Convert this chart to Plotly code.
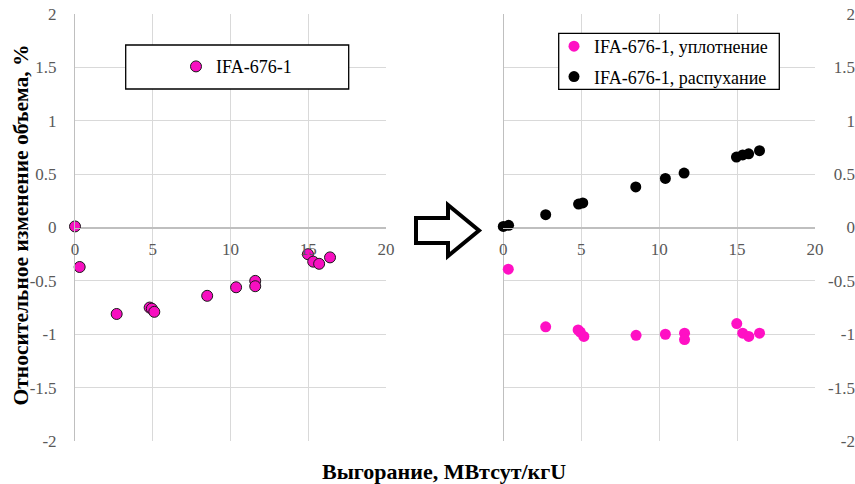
import plotly.graph_objects as go

# Burnup, MWd/kgU, and relative volume change, %  (IFA-676-1)
total_burnup = [0.0, 0.3, 2.68, 4.8, 4.94, 5.1, 8.5, 10.36, 11.59, 11.59, 14.98, 15.32, 15.7, 16.4]
total_change = [0.01, -0.37, -0.81, -0.75, -0.76, -0.79, -0.64, -0.56, -0.50, -0.55, -0.25, -0.32, -0.34, -0.28]

dens_burnup = [0.32, 2.72, 4.8, 4.94, 5.17, 8.52, 10.4, 11.63, 11.63, 14.98, 15.36, 15.75, 16.44]
dens_change = [-0.39, -0.93, -0.96, -0.98, -1.02, -1.01, -1.00, -0.99, -1.05, -0.90, -0.99, -1.02, -0.99]

swell_burnup = [0.0, 0.34, 2.72, 4.83, 5.1, 8.5, 10.4, 11.6, 14.96, 15.36, 15.74, 16.44]
swell_change = [0.01, 0.02, 0.12, 0.22, 0.23, 0.38, 0.46, 0.51, 0.66, 0.68, 0.69, 0.72]

y_tick_vals = [-2, -1.5, -1, -0.5, 0, 0.5, 1, 1.5, 2]
y_tick_text = ["-2", "-1.5", "-1", "-0.5", "0", "0.5", "1", "1.5", "2"]
x_tick_vals = [0, 5, 10, 15, 20]
x_tick_text = ["0", "5", "10", "15", "20"]

W, H = 855, 484
ML, MR, MT, MB = 75, 0, 14, 43
PW, PH = W - ML - MR, H - MT - MB


def fx(p):
    return (p - ML) / PW


def fy(p):
    return (H - MB - p) / PH


SERIF = "'Liberation Serif', 'Times New Roman', serif"
GRID = "#d9d9d9"
AXIS = "#bfbfbf"
TICK = "#595959"
PINK = "#ff10c4"

fig = go.Figure()

fig.add_trace(go.Scatter(
    x=total_burnup, y=total_change, mode="markers", name="IFA-676-1",
    xaxis="x", yaxis="y", legend="legend", cliponaxis=False,
    marker=dict(size=11, color="#f70fc0", line=dict(color="#1a1a1a", width=1)),
))
fig.add_trace(go.Scatter(
    x=dens_burnup, y=dens_change, mode="markers", name="IFA-676-1, уплотнение",
    xaxis="x2", yaxis="y2", legend="legend2", legendgroup="a", cliponaxis=False,
    marker=dict(size=11, color=PINK),
))
fig.add_trace(go.Scatter(
    x=swell_burnup, y=swell_change, mode="markers", name="IFA-676-1, распухание",
    xaxis="x2", yaxis="y2", legend="legend2", legendgroup="b", cliponaxis=False,
    marker=dict(size=11, color="#000000"),
))

xcommon = dict(
    range=[0, 20], tickmode="array", tickvals=x_tick_vals, ticktext=x_tick_text,
    showgrid=True, gridcolor=GRID, gridwidth=1, zeroline=True, zerolinecolor=AXIS,
    zerolinewidth=1, showline=True, linecolor=AXIS, linewidth=1, ticks="",
    anchor="free", position=0.5, ticklabelstandoff=6,
    tickfont=dict(family=SERIF, size=17, color=TICK), automargin=False,
)
ycommon = dict(
    range=[-2, 2], domain=[0, 1], tickmode="array", tickvals=y_tick_vals,
    ticktext=y_tick_text, showgrid=True, gridcolor=GRID, gridwidth=1,
    zeroline=True, zerolinecolor=AXIS, zerolinewidth=1, ticks="",
    tickfont=dict(family=SERIF, size=17, color=TICK), automargin=False,
)

fig.update_layout(
    width=W, height=H,
    margin=dict(l=ML, r=MR, t=MT, b=MB),
    paper_bgcolor="white", plot_bgcolor="white",
    font=dict(family=SERIF),
    xaxis=dict(domain=[0, fx(386)], **xcommon),
    xaxis2=dict(domain=[fx(503.3), fx(815)], **xcommon),
    yaxis=dict(anchor="x", showline=True, linecolor=AXIS, linewidth=1,
               ticklabelstandoff=14, **ycommon),
    yaxis2=dict(anchor="free", position=1.0, side="left", showline=False,
                ticklabelstandoff=0, **ycommon),
    legend=dict(x=fx(176), y=fy(66.7), xanchor="left", yanchor="middle",
                bgcolor="rgba(0,0,0,0)", borderwidth=0,
                font=dict(family=SERIF, size=18, color="black")),
    legend2=dict(x=fx(554), y=fy(61.5), xanchor="left", yanchor="middle",
                 bgcolor="rgba(0,0,0,0)", borderwidth=0, tracegroupgap=4,
                 font=dict(family=SERIF, size=18, color="black")),
    showlegend=True,
)

# legend frames
fig.add_shape(type="rect", xref="paper", yref="paper",
              x0=fx(125.7), x1=fx(348.7), y0=fy(89), y1=fy(45),
              line=dict(color="black", width=1.3), fillcolor="white", layer="above")
fig.add_shape(type="rect", xref="paper", yref="paper",
              x0=fx(558.7), x1=fx(779.3), y0=fy(89.3), y1=fy(33.3),
              line=dict(color="black", width=1.3), fillcolor="white", layer="above")

# outlined arrow between the panels
arrow_pts = [(416, 218), (448, 218), (448, 205), (479, 230.5), (448, 256),
             (448, 243), (416, 243)]
path = "M " + " L ".join(f"{fx(a):.5f},{fy(b):.5f}" for a, b in arrow_pts) + " Z"
fig.add_shape(type="path", xref="paper", yref="paper", path=path,
              line=dict(color="black", width=4), fillcolor="white", layer="above")

fig.add_annotation(
    text="<b>Относительное изменение объема, %</b>", textangle=-90,
    xref="paper", yref="paper", x=fx(20), y=fy(225.5),
    xanchor="center", yanchor="middle", showarrow=False,
    font=dict(family=SERIF, size=21.5, color="black"),
)
fig.add_annotation(
    text="<b>Выгорание, МВтсут/кгU</b>",
    xref="paper", yref="paper", x=fx(444), y=fy(471.7),
    xanchor="center", yanchor="middle", showarrow=False,
    font=dict(family=SERIF, size=22, color="black"),
)

fig.write_html("out.html")
